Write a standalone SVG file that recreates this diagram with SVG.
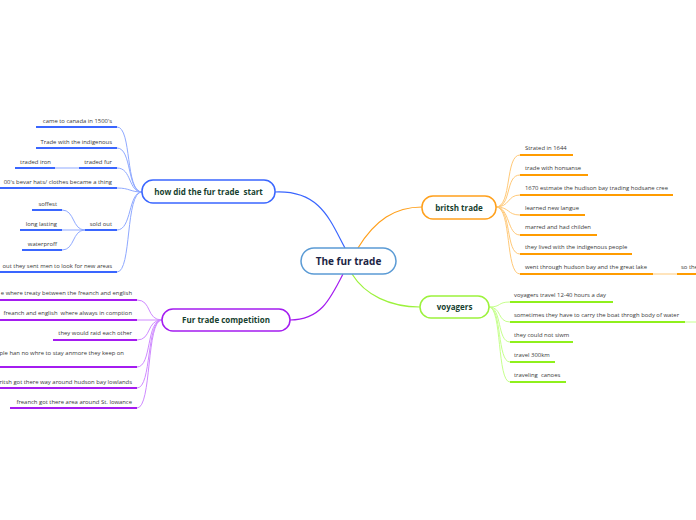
<svg xmlns="http://www.w3.org/2000/svg" width="696" height="520" viewBox="0 0 696 520">
<style>
text{white-space:pre}
.t{font-family:"Open Sans","Liberation Sans",sans-serif;font-size:5.9px;fill:#383838}
.r{text-anchor:end}
.n{font-family:"Open Sans","Liberation Sans",sans-serif;font-size:8px;font-weight:bold;fill:#173f2f;text-anchor:middle}
.c{font-family:"Open Sans","Liberation Sans",sans-serif;font-size:10px;font-weight:bold;fill:#1b2444;text-anchor:middle}
.ub{stroke:#3a66ff;stroke-width:2;fill:none}
.cb{stroke:#8fa9ff;stroke-width:1;fill:none}
.uo{stroke:#ff9c00;stroke-width:2;fill:none}
.co{stroke:#ffc978;stroke-width:1;fill:none}
.up{stroke:#a41cf0;stroke-width:2;fill:none}
.cp{stroke:#cf8aff;stroke-width:1;fill:none}
.ug{stroke:#8ff01c;stroke-width:2;fill:none}
.cg{stroke:#c6ff8c;stroke-width:1;fill:none}
</style>
<rect width="696" height="520" fill="#fff"/>
<g id="connectors">
<path d="M275,192 C320,190 330,220 345,248" stroke="#3a66ff" stroke-width="1.2" fill="none"/>
<path d="M358,248 C375,220 395,207 422,207" stroke="#ffa01c" stroke-width="1.2" fill="none"/>
<path d="M343,274 C330,300 320,320 290,320" stroke="#a41cf0" stroke-width="1.2" fill="none"/>
<path d="M352,274 C365,295 390,307 420,307" stroke="#9cf23c" stroke-width="1.2" fill="none"/>
<!-- blue -->
<path class="cb" d="M142,192 C125,192 132,127 117,127"/>
<path class="cb" d="M142,192 C127,192 132,148 117,148"/>
<path class="cb" d="M142,192 C128,192 132,168 117,168"/>
<path class="cb" d="M142,192 C130,192 130,188 117,188"/>
<path class="cb" d="M142,192 C128,192 132,230 117,230"/>
<path class="cb" d="M142,192 C125,192 132,272 117,272"/>
<path class="cb" d="M79,168 L55,168"/>
<path class="cb" d="M85,230 C72,230 75,210 62,210"/>
<path class="cb" d="M85,230 L62,230"/>
<path class="cb" d="M85,230 C72,230 75,250 62,250"/>
<!-- orange -->
<path class="co" d="M496,207 C512,207 505,155 520,155"/>
<path class="co" d="M496,207 C512,207 505,175 520,175"/>
<path class="co" d="M496,207 C510,207 507,195 520,195"/>
<path class="co" d="M496,207 C510,207 507,215 520,215"/>
<path class="co" d="M496,207 C510,207 507,235 520,235"/>
<path class="co" d="M496,207 C512,207 505,254 520,254"/>
<path class="co" d="M496,207 C512,207 505,274 520,274"/>
<path class="co" d="M653,274 L677,274"/>
<!-- purple -->
<path class="cp" d="M162,320 C146,320 152,300 137,300"/>
<path class="cp" d="M162,320 L137,320"/>
<path class="cp" d="M162,320 C146,320 152,340 137,340"/>
<path class="cp" d="M162,320 C146,320 152,367 137,367"/>
<path class="cp" d="M162,320 C146,320 152,388 137,388"/>
<path class="cp" d="M162,320 C146,320 152,408 137,408"/>
<!-- green -->
<path class="cg" d="M489,307 C502,307 497,302 510,302"/>
<path class="cg" d="M489,307 C502,307 497,322 510,322"/>
<path class="cg" d="M489,307 C502,307 497,342 510,342"/>
<path class="cg" d="M489,307 C502,307 497,362 510,362"/>
<path class="cg" d="M489,307 C502,307 497,382 510,382"/>
<path class="cg" d="M685,322 L696,322"/>
</g>
<g id="center">
<rect x="301" y="248" width="95" height="26" rx="13" fill="#fff" stroke="#5b9bd5" stroke-width="1.5"/>
<text class="c" x="348.5" y="264.5">The fur trade</text>
</g>
<g id="node-start">
<rect x="142" y="180" width="133" height="23" rx="11" fill="#fff" stroke="#3a66ff" stroke-width="1.5"/>
<text class="n" x="208.5" y="194.5">how did the fur trade  start</text>
</g>
<g id="node-britsh">
<rect x="422" y="196" width="74" height="23" rx="11" fill="#fff" stroke="#ffa01c" stroke-width="1.5"/>
<text class="n" x="459" y="210.5">britsh trade</text>
</g>
<g id="node-voyagers">
<rect x="420" y="296" width="69" height="22" rx="11" fill="#fff" stroke="#9cf23c" stroke-width="1.5"/>
<text class="n" x="454.5" y="310">voyagers</text>
</g>
<g id="node-competition">
<rect x="162" y="309" width="128" height="22" rx="11" fill="#fff" stroke="#a41cf0" stroke-width="1.5"/>
<text class="n" x="226" y="323">Fur trade competition</text>
</g>
<g id="leaves-start">
<text class="t r" x="112" y="123">came to canada in 1500's</text><path class="ub" d="M36,127 H117"/>
<text class="t r" x="112" y="144">Trade with the indigenous</text><path class="ub" d="M36,148 H117"/>
<text class="t r" x="112" y="164">traded fur</text><path class="ub" d="M79,168 H117"/>
<text class="t r" x="51" y="164">traded iron</text><path class="ub" d="M15,168 H55"/>
<text class="t r" x="112" y="184">00's bevar hats/ clothes became a thing</text><path class="ub" d="M0,188 H117"/>
<text class="t r" x="112" y="226">sold out</text><path class="ub" d="M85,230 H117"/>
<text class="t r" x="57" y="206">soffest</text><path class="ub" d="M32,210 H62"/>
<text class="t r" x="57" y="226">long lasting</text><path class="ub" d="M20,230 H62"/>
<text class="t r" x="57" y="246">waterproff</text><path class="ub" d="M22,250 H62"/>
<text class="t r" x="112" y="268">out they sent men to look for new areas</text><path class="ub" d="M0,272 H117"/>
</g>
<g id="leaves-competition">
<text class="t r" x="132" y="295">e where treaty between the freanch and english</text><path class="up" d="M0,300 H137"/>
<text class="t r" x="132" y="315">freanch and english  where always in comption</text><path class="up" d="M0,320 H137"/>
<text class="t r" x="132" y="335">they would raid each other</text><path class="up" d="M53,340 H137"/>
<text class="t r" x="124" y="355">ple han no whre to stay anmore they keep on</text><path class="up" d="M0,367 H137"/>
<text class="t r" x="132" y="384">ritsh got there way around hudson bay lowlands</text><path class="up" d="M0,388 H137"/>
<text class="t r" x="132" y="404">freanch got there area around St. lowance</text><path class="up" d="M10,408 H137"/>
</g>
<g id="leaves-britsh">
<text class="t" x="525" y="150">Strated in 1644</text><path class="uo" d="M520,155 H573"/>
<text class="t" x="525" y="170">trade with honsanse</text><path class="uo" d="M520,175 H588"/>
<text class="t" x="525" y="190">1670 estmate the hudison bay trading hodsane cree</text><path class="uo" d="M520,195 H673"/>
<text class="t" x="525" y="210">learned new langue</text><path class="uo" d="M520,215 H585"/>
<text class="t" x="525" y="229">marred and had childen</text><path class="uo" d="M520,235 H597"/>
<text class="t" x="525" y="249">they lived with the indigenous people</text><path class="uo" d="M520,254 H632"/>
<text class="t" x="525" y="269">went through hudson bay and the great lake</text><path class="uo" d="M520,274 H653"/>
<text class="t" x="681" y="269">so the</text><path class="uo" d="M677,274 H696"/>
</g>
<g id="leaves-voyagers">
<text class="t" x="514" y="297">voyagers travel 12-40 hours a day</text><path class="ug" d="M510,302 H613"/>
<text class="t" x="514" y="317">sometimes they have to carry the boat throgh body of water</text><path class="ug" d="M510,322 H685"/>
<text class="t" x="514" y="337">they could not siwm</text><path class="ug" d="M510,342 H573"/>
<text class="t" x="514" y="357">travel 300km</text><path class="ug" d="M510,362 H555"/>
<text class="t" x="514" y="377">traveling  canoes</text><path class="ug" d="M510,382 H566"/>
</g>
</svg>
